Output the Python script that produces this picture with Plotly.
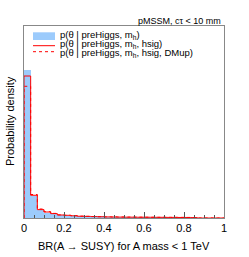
import plotly.graph_objects as go

# ---- data (probability density per bin, 30 bins on [0,1]) ----
n_bins = 30
bin_edges = [i / n_bins for i in range(n_bins + 1)]
dens_mh = [19.32, 2.86, 0.98, 0.68, 0.49, 0.34, 0.30, 0.25, 0.21, 0.18,
           0.16, 0.14, 0.13, 0.12, 0.11, 0.10, 0.10, 0.09, 0.09, 0.08,
           0.08, 0.07, 0.07, 0.06, 0.06, 0.04, 0.0, 0.0, 0.0, 0.0]
dens_hsig = [18.49, 2.96, 1.09, 0.78, 0.57, 0.39, 0.35, 0.29, 0.23, 0.21,
             0.18, 0.16, 0.14, 0.13, 0.12, 0.11, 0.11, 0.10, 0.10, 0.09,
             0.09, 0.08, 0.08, 0.07, 0.07, 0.05, 0.0, 0.0, 0.0, 0.0]
dens_dmup = [17.15, 3.06, 1.17, 0.82, 0.60, 0.41, 0.36, 0.30, 0.24, 0.22,
             0.19, 0.17, 0.15, 0.14, 0.13, 0.12, 0.11, 0.11, 0.10, 0.10,
             0.09, 0.09, 0.08, 0.08, 0.07, 0.05, 0.0, 0.0, 0.0, 0.0]
legend_labels = ["p(θ | preHiggs, m<sub>h</sub>)",
                 "p(θ | preHiggs, m<sub>h</sub>, hsig)",
                 "p(θ | preHiggs, m<sub>h</sub>, hsig, DMup)"]
x_tickvals = [0, 0.2, 0.4, 0.6, 0.8, 1]
x_ticktext = ["0", "0.2", "0.4", "0.6", "0.8", "1"]

FONT = "Liberation Sans, Arial, sans-serif"
BLUE = "#9ccbfc"
RED = "#ff0000"

centers = [(bin_edges[i] + bin_edges[i + 1]) / 2 for i in range(n_bins)]
width = 1 / n_bins

fig = go.Figure()
fig.add_trace(go.Bar(x=centers, y=dens_mh, width=width, marker=dict(color=BLUE, line=dict(width=0)),
                     showlegend=False))


def step(vals):
    xs = [0] + bin_edges
    ys = [0] + vals + [vals[-1]]
    return xs, ys


for vals, dash in [(dens_dmup, "dot"), (dens_hsig, "solid")]:
    xs, ys = step(vals)
    fig.add_trace(go.Scatter(x=xs, y=ys, mode="lines", line=dict(color=RED, width=1, dash=dash, shape="hv"),
                             showlegend=False))

# plot area in px: x 24..224, y 26..218
L, R, T, B = 24, 224, 26, 218
W, H = 249, 257


def px(x):
    return (x - L) / (R - L)


def py(y):
    return (B - y) / (B - T)


shapes = [
    dict(type="rect", xref="paper", yref="paper", x0=px(33), x1=px(55), y0=py(40), y1=py(32.3),
         fillcolor=BLUE, line=dict(width=0)),
    dict(type="line", xref="paper", yref="paper", x0=px(33), x1=px(55), y0=py(45.7), y1=py(45.7),
         line=dict(color=RED, width=1)),
    dict(type="line", xref="paper", yref="paper", x0=px(33), x1=px(55), y0=py(51.7), y1=py(51.7),
         line=dict(color=RED, width=1, dash="dot")),
]

annotations = []
for lbl, yc in zip(legend_labels, [35.5, 44.0, 53.0]):
    annotations.append(dict(text=lbl, xref="paper", yref="paper", x=px(58), y=py(yc),
                            xanchor="left", yanchor="middle", showarrow=False,
                            font=dict(family=FONT, size=9.5, color="black")))
annotations.append(dict(text="pMSSM, cτ < 10 mm", xref="paper", yref="paper", x=px(223), y=py(21),
                        xanchor="right", yanchor="middle", showarrow=False,
                        font=dict(family=FONT, size=9, color="black")))
annotations.append(dict(text="BR(A → SUSY) for A mass < 1 TeV", xref="paper", yref="paper",
                        x=px(123.5), y=py(245.5), xanchor="center", yanchor="middle", showarrow=False,
                        font=dict(family=FONT, size=11, color="black")))
annotations.append(dict(text="Probability density", xref="paper", yref="paper",
                        x=px(10), y=py(121), xanchor="center", yanchor="middle", showarrow=False,
                        textangle=-90, font=dict(family=FONT, size=11, color="black")))

fig.update_layout(
    width=W, height=H,
    margin=dict(l=L, r=W - R, t=T, b=H - B, pad=0, autoexpand=False),
    plot_bgcolor="white", paper_bgcolor="white",
    bargap=0, showlegend=False,
    shapes=shapes, annotations=annotations,
    xaxis=dict(range=[0, 1], tickvals=x_tickvals, ticktext=x_ticktext, ticks="inside", ticklen=6,
               tickcolor="#555", showgrid=False, zeroline=False, showline=True, linecolor="#888",
               linewidth=1, mirror=True, tickfont=dict(family=FONT, size=11, color="black"),
               automargin=False,
               minor=dict(dtick=0.05, ticks="inside", ticklen=3, tickcolor="#555", showgrid=False)),
    yaxis=dict(range=[0, 25], showticklabels=False, ticks="", showgrid=False, zeroline=False,
               showline=True, linecolor="#888", linewidth=1, mirror=True, automargin=False),
)

fig.write_html("out.html", config={"displayModeBar": False},
               post_script="document.body.style.margin='0';document.body.style.padding='0';")
